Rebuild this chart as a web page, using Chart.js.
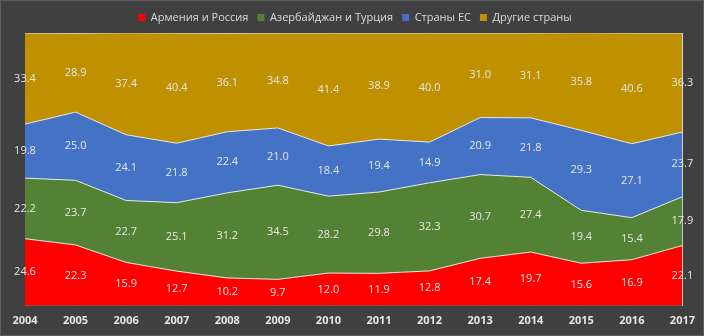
<!DOCTYPE html>
<html>
<head>
<meta charset="utf-8">
<script src="https://cdn.jsdelivr.net/npm/chart.js@4"></script>
<style>
  html, body { margin: 0; padding: 0; background: #404040; }
  #wrap { width: 702px; height: 334px; border: 1px solid #5e5e5e; }
</style>
</head>
<body>
<div id="wrap"><canvas id="areaChart" width="702" height="334"></canvas></div>
<script>
var years = ['2004', '2005', '2006', '2007', '2008', '2009', '2010', '2011', '2012', '2013', '2014', '2015', '2016', '2017'];
var armRus = [24.6, 22.3, 15.9, 12.7, 10.2, 9.7, 12.0, 11.9, 12.8, 17.4, 19.7, 15.6, 16.9, 22.1];
var azeTur = [22.2, 23.7, 22.7, 25.1, 31.2, 34.5, 28.2, 29.8, 32.3, 30.7, 27.4, 19.4, 15.4, 17.9];
var euCountries = [19.8, 25.0, 24.1, 21.8, 22.4, 21.0, 18.4, 19.4, 14.9, 20.9, 21.8, 29.3, 27.1, 23.7];
var otherCountries = [33.4, 28.9, 37.4, 40.4, 36.1, 34.8, 41.4, 38.9, 40.0, 31.0, 31.1, 35.8, 40.6, 36.3];

var names = ['Армения и Россия', 'Азербайджан и Турция', 'Страны ЕС', 'Другие страны'];
var colors = ['#ff0000', '#548235', '#4472c4', '#bf9000'];

function makeSet(label, data, color) {
    return {
        label: label,
        data: data,
        backgroundColor: color,
        borderColor: '#e8e8e8',
        borderWidth: 1,
        pointRadius: 0,
        tension: 0,
        fill: true
    };
}

// draws the value labels in the middle of each band
var bandLabels = {
    id: 'bandLabels',
    afterDatasetsDraw: function(chart) {
        var ctx = chart.ctx;
        var x = chart.scales.x, y = chart.scales.y;
        ctx.save();
        ctx.font = '11px "Open Sans", sans-serif';
        ctx.fillStyle = '#e6e6e6';
        ctx.textAlign = 'center';
        ctx.textBaseline = 'middle';
        for (var i = 0; i < years.length; i++) {
            var base = 0;
            chart.data.datasets.forEach(function(ds) {
                var v = ds.data[i];
                var mid = y.getPixelForValue(base + v / 2);
                ctx.fillText(v.toFixed(1), x.getPixelForValue(i), mid);
                base += v;
            });
        }
        ctx.restore();
    }
};

var ctx = document.getElementById('areaChart').getContext('2d');
new Chart(ctx, {
    type: 'line',
    data: {
        labels: years,
        datasets: [
            makeSet(names[0], armRus, colors[0]),
            makeSet(names[1], azeTur, colors[1]),
            makeSet(names[2], euCountries, colors[2]),
            makeSet(names[3], otherCountries, colors[3])
        ]
    },
    options: {
        responsive: false,
        animation: false,
        layout: { padding: { left: 24, right: 18, top: 2, bottom: 0 } },
        plugins: {
            legend: {
                position: 'top',
                labels: {
                    color: '#d9d9d9',
                    font: { family: '"Open Sans", sans-serif', size: 11 },
                    boxWidth: 7,
                    boxHeight: 7,
                    padding: 9,
                    generateLabels: function(chart) {
                        return chart.data.datasets.map(function(ds, i) {
                            return {
                                text: ds.label,
                                fillStyle: ds.backgroundColor,
                                strokeStyle: ds.backgroundColor,
                                lineWidth: 0,
                                datasetIndex: i,
                                fontColor: '#d9d9d9'
                            };
                        });
                    }
                }
            },
            tooltip: { enabled: false }
        },
        scales: {
            x: {
                offset: false,
                grid: { color: '#e0e0e0', lineWidth: 1, drawTicks: false },
                border: { display: false },
                ticks: {
                    color: '#e6e6e6',
                    padding: 8,
                    font: { family: '"Open Sans", sans-serif', size: 11, weight: 'bold' },
                    maxRotation: 0
                }
            },
            y: {
                display: false,
                stacked: true,
                min: 0,
                max: 100
            }
        }
    },
    plugins: [bandLabels]
});
</script>
</body>
</html>
